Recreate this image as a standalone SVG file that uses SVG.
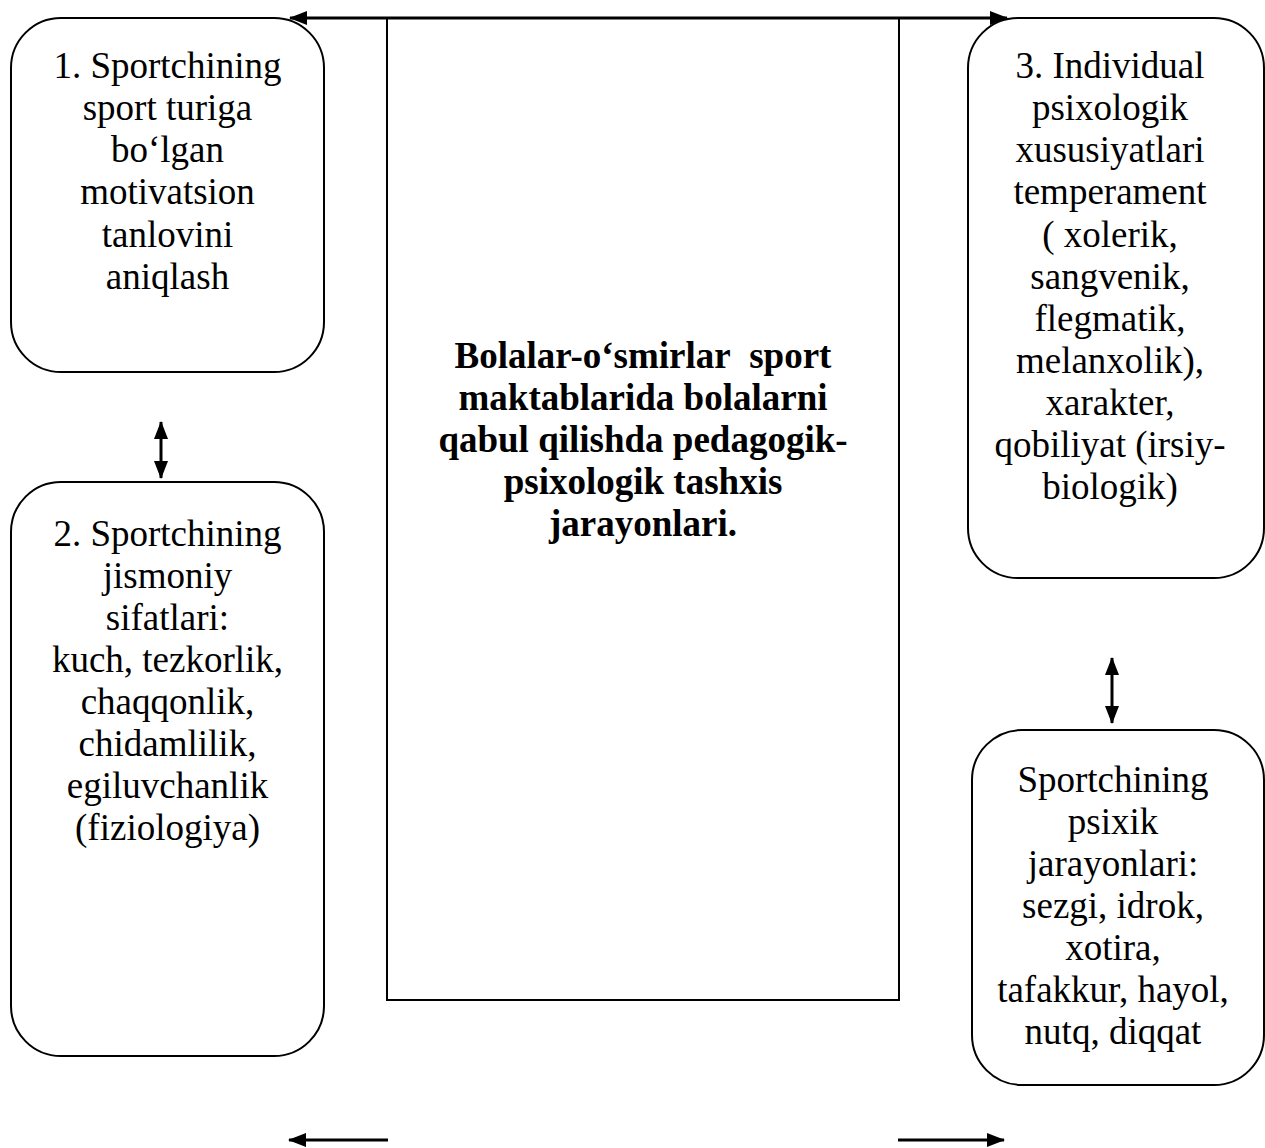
<svg xmlns="http://www.w3.org/2000/svg" width="1265" height="1148" viewBox="0 0 1265 1148">
<style>
.box{fill:#fff;stroke:#000;stroke-width:2}
.t{font-family:"Liberation Serif","Times New Roman",serif;font-size:37px;text-anchor:middle;fill:#000}
.b{font-weight:bold}
.c{stroke:#000;stroke-width:3;fill:none}
</style>
<defs>
<marker id="ah" markerUnits="userSpaceOnUse" markerWidth="18" markerHeight="14" refX="17" refY="7" orient="auto-start-reverse">
<path d="M0,0 L18,7 L0,14 z" fill="#000"/>
</marker>
</defs>
<rect width="1265" height="1148" fill="#fff"/>
<g id="center">
<rect class="box" x="387" y="18" width="512" height="982"/>
<text class="t b"><tspan x="643" y="368">Bolalar-o‘smirlar&#160; sport</tspan><tspan x="643" y="410">maktablarida bolalarni</tspan><tspan x="643" y="452">qabul qilishda pedagogik-</tspan><tspan x="643" y="494">psixologik tashxis</tspan><tspan x="643" y="536">jarayonlari.</tspan></text>
</g>
<g id="node1">
<rect class="box" x="11" y="18" width="313" height="354" rx="50"/>
<text class="t"><tspan x="167.5" y="78">1. Sportchining</tspan><tspan x="167.5" y="120">sport turiga</tspan><tspan x="167.5" y="162">bo‘lgan</tspan><tspan x="167.5" y="204">motivatsion</tspan><tspan x="167.5" y="247">tanlovini</tspan><tspan x="167.5" y="289">aniqlash</tspan></text>
</g>
<g id="node2">
<rect class="box" x="11" y="482" width="313" height="574" rx="50"/>
<text class="t"><tspan x="167.5" y="546">2. Sportchining</tspan><tspan x="167.5" y="588">jismoniy</tspan><tspan x="167.5" y="630">sifatlari:</tspan><tspan x="167.5" y="672">kuch, tezkorlik,</tspan><tspan x="167.5" y="714">chaqqonlik,</tspan><tspan x="167.5" y="756">chidamlilik,</tspan><tspan x="167.5" y="798">egiluvchanlik</tspan><tspan x="167.5" y="840">(fiziologiya)</tspan></text>
</g>
<g id="node3">
<rect class="box" x="968" y="18" width="296" height="560" rx="50"/>
<text class="t"><tspan x="1110" y="78">3. Individual</tspan><tspan x="1110" y="120">psixologik</tspan><tspan x="1110" y="162">xususiyatlari</tspan><tspan x="1110" y="204">temperament</tspan><tspan x="1110" y="247">( xolerik,</tspan><tspan x="1110" y="289">sangvenik,</tspan><tspan x="1110" y="331">flegmatik,</tspan><tspan x="1110" y="373">melanxolik),</tspan><tspan x="1110" y="415">xarakter,</tspan><tspan x="1110" y="457">qobiliyat (irsiy-</tspan><tspan x="1110" y="499">biologik)</tspan></text>
</g>
<g id="node4">
<rect class="box" x="972" y="730" width="292" height="355" rx="50"/>
<text class="t"><tspan x="1113" y="792">Sportchining</tspan><tspan x="1113" y="834">psixik</tspan><tspan x="1113" y="876">jarayonlari:</tspan><tspan x="1113" y="918">sezgi, idrok,</tspan><tspan x="1113" y="960">xotira,</tspan><tspan x="1113" y="1002">tafakkur, hayol,</tspan><tspan x="1113" y="1044">nutq, diqqat</tspan></text>
</g>
<g id="connectors">
<line class="c" x1="290" y1="18" x2="1007" y2="18" marker-start="url(#ah)" marker-end="url(#ah)"/>
<line class="c" x1="161" y1="422" x2="161" y2="478" marker-start="url(#ah)" marker-end="url(#ah)"/>
<line class="c" x1="1112" y1="658" x2="1112" y2="723" marker-start="url(#ah)" marker-end="url(#ah)"/>
<line class="c" x1="388" y1="1140" x2="289" y2="1140" marker-end="url(#ah)"/>
<line class="c" x1="898" y1="1140" x2="1004" y2="1140" marker-end="url(#ah)"/>
</g>
</svg>
